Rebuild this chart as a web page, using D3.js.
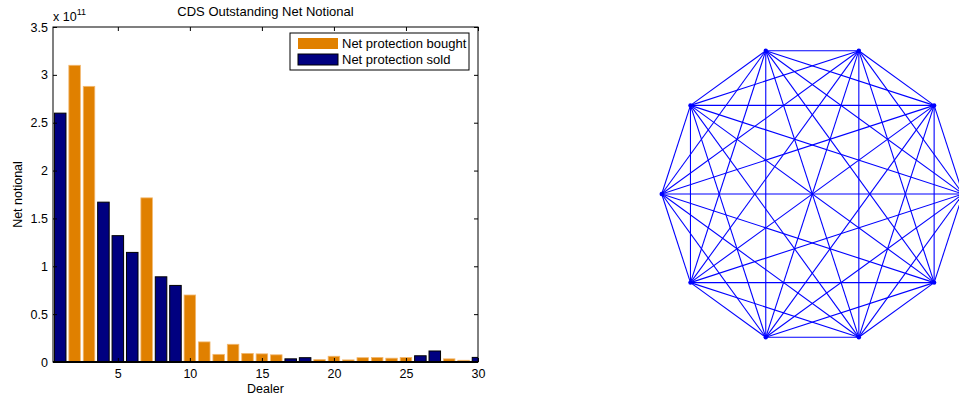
<!DOCTYPE html>
<html>
<head>
<meta charset="utf-8">
<script src="https://cdn.jsdelivr.net/npm/d3@7"></script>
<style>
  body { margin: 0; background: #fff; }
  text { font-family: "Liberation Sans", Arial, sans-serif; fill: #000; }
</style>
</head>
<body>
<div id="GraphHolder"></div>
<script>
// dealer numbers 1..30
var dealers = [1,2,3,4,5,6,7,8,9,10,11,12,13,14,15,16,17,18,19,20,21,22,23,24,25,26,27,28,29,30];

// net protection bought / sold per dealer (0 when the dealer is on the other side)
var bought = [0, 3.10e11, 2.88e11, 0, 0, 0, 1.715e11, 0, 0, 0.70e11,
              0.21e11, 0.08e11, 0.185e11, 0.09e11, 0.085e11, 0.075e11, 0, 0, 0.025e11, 0.06e11,
              0.022e11, 0.045e11, 0.048e11, 0.04e11, 0.048e11, 0, 0, 0.033e11, 0.018e11, 0];
var sold = [2.60e11, 0, 0, 1.67e11, 1.32e11, 1.145e11, 0, 0.89e11, 0.80e11, 0,
            0, 0, 0, 0, 0, 0, 0.033e11, 0.045e11, 0, 0,
            0, 0, 0, 0, 0, 0.065e11, 0.115e11, 0, 0, 0.048e11];

var yTicks = [0, 0.5e11, 1e11, 1.5e11, 2e11, 2.5e11, 3e11, 3.5e11];
var xTicks = [5, 10, 15, 20, 25, 30];
var seriesNames = ["Net protection bought", "Net protection sold"];
var seriesColors = ["#e08000", "#000080"];

// graph: 10 nodes on a decagon (unit coords), every pair joined
var nodeX = [1, 0.809, 0.309, -0.309, -0.809, -1, -0.809, -0.309, 0.309, 0.809];
var nodeY = [0, 0.588, 0.951, 0.951, 0.588, 0, -0.588, -0.951, -0.951, -0.588];

var svg = d3.select("#GraphHolder").append("svg")
    .attr("width", 959)
    .attr("height", 399);

// ---------- left: bar chart ----------
var plot = {left: 53, right: 478, top: 27, bottom: 362};

var x = d3.scaleLinear().domain([0.5, 30]).range([plot.left, plot.right]);
var y = d3.scaleLinear().domain([0, 3.5e11]).range([plot.bottom, plot.top]);
var bw = x(0.8) - x(0);

svg.append("defs").append("clipPath").attr("id", "plotclip")
    .append("rect")
    .attr("x", plot.left).attr("y", plot.top)
    .attr("width", plot.right - plot.left).attr("height", plot.bottom - plot.top);

var bars = svg.append("g").attr("clip-path", "url(#plotclip)");

var rows = dealers.map(function(d, i) { return {dealer: d, bought: bought[i], sold: sold[i]}; });

bars.selectAll(".bought")
    .data(rows.filter(function(d) { return d.bought > 0; }))
    .enter().append("rect")
    .attr("class", "bought")
    .attr("x", function(d) { return x(d.dealer) - bw / 2; })
    .attr("width", bw)
    .attr("y", function(d) { return y(d.bought); })
    .attr("height", function(d) { return y(0) - y(d.bought); })
    .style("fill", seriesColors[0])
    .style("stroke", "#f2b870")
    .style("stroke-width", 0.8);

bars.selectAll(".sold")
    .data(rows.filter(function(d) { return d.sold > 0; }))
    .enter().append("rect")
    .attr("class", "sold")
    .attr("x", function(d) { return x(d.dealer) - bw / 2; })
    .attr("width", bw)
    .attr("y", function(d) { return y(d.sold); })
    .attr("height", function(d) { return y(0) - y(d.sold); })
    .style("fill", seriesColors[1])
    .style("stroke", "#000")
    .style("stroke-width", 1);

// baseline
svg.append("line")
    .attr("x1", plot.left).attr("x2", plot.right)
    .attr("y1", y(0)).attr("y2", y(0))
    .style("stroke", "#000").style("stroke-width", 2);

// axes (ticks inside, box on all sides)
var fmtY = function(d) { return d3.format("~g")(d / 1e11); };

svg.append("g")
    .attr("transform", "translate(" + plot.left + ",0)")
    .call(d3.axisLeft(y).tickValues(yTicks).tickSize(-4).tickPadding(5).tickFormat(fmtY));
svg.append("g")
    .attr("transform", "translate(" + plot.right + ",0)")
    .call(d3.axisRight(y).tickValues(yTicks).tickSize(-4).tickFormat(""));
svg.append("g")
    .attr("transform", "translate(0," + plot.bottom + ")")
    .call(d3.axisBottom(x).tickValues(xTicks).tickSize(-4).tickPadding(7));
svg.append("g")
    .attr("transform", "translate(0," + plot.top + ")")
    .call(d3.axisTop(x).tickValues(xTicks).tickSize(-4).tickFormat(""));

svg.selectAll(".domain").attr("d", null);
svg.append("rect")
    .attr("x", plot.left).attr("y", plot.top)
    .attr("width", plot.right - plot.left).attr("height", plot.bottom - plot.top)
    .style("fill", "none").style("stroke", "#000").style("stroke-width", 1);

svg.selectAll(".tick line").style("stroke", "#000");
svg.selectAll(".tick text")
    .style("font-family", "Liberation Sans, Arial, sans-serif")
    .style("font-size", "12.5px");

// exponent label
var expo = svg.append("text").attr("x", 53).attr("y", 21).style("font-size", "12.5px");
expo.append("tspan").text("x 10");
expo.append("tspan").attr("dy", -6).style("font-size", "9px").text("11");

// title and axis labels
svg.append("text")
    .attr("x", (plot.left + plot.right) / 2).attr("y", 16)
    .attr("text-anchor", "middle").style("font-size", "13px")
    .text("CDS Outstanding Net Notional");
svg.append("text")
    .attr("x", (plot.left + plot.right) / 2).attr("y", 393)
    .attr("text-anchor", "middle").style("font-size", "12.5px")
    .text("Dealer");
svg.append("text")
    .attr("transform", "translate(22," + (plot.top + plot.bottom) / 2 + ") rotate(-90)")
    .attr("text-anchor", "middle").style("font-size", "12.5px")
    .text("Net notional");

// legend
var legend = svg.append("g");
legend.append("rect")
    .attr("x", 290).attr("y", 33).attr("width", 179).attr("height", 37)
    .style("fill", "#fff").style("stroke", "#000").style("stroke-width", 1);
seriesNames.forEach(function(name, i) {
    legend.append("rect")
        .attr("x", 298).attr("y", 38 + i * 16).attr("width", 40).attr("height", 11)
        .style("fill", seriesColors[i])
        .style("stroke", i === 1 ? "#000" : "none");
    legend.append("text")
        .attr("x", 342).attr("y", 47.5 + i * 16.5)
        .style("font-size", "13px")
        .text(name);
});

// ---------- right: complete graph on the decagon ----------
var gx = d3.scaleLinear().domain([-1, 1]).range([812.3 - 150.6, 812.3 + 150.6]);
var gy = d3.scaleLinear().domain([-1, 1]).range([194 + 150.7, 194 - 150.7]);

var nodes = nodeX.map(function(v, i) { return {x: v, y: nodeY[i]}; });
var edges = [];
nodes.forEach(function(a, i) {
    nodes.forEach(function(b, j) {
        if (j > i) edges.push([a, b]);
    });
});

var graph = svg.append("g");
graph.selectAll(".edge")
    .data(edges)
    .enter().append("line")
    .attr("class", "edge")
    .attr("x1", function(d) { return gx(d[0].x); })
    .attr("y1", function(d) { return gy(d[0].y); })
    .attr("x2", function(d) { return gx(d[1].x); })
    .attr("y2", function(d) { return gy(d[1].y); })
    .style("stroke", "#0000ff")
    .style("stroke-width", 1.1);

graph.selectAll(".node")
    .data(nodes)
    .enter().append("circle")
    .attr("class", "node")
    .attr("cx", function(d) { return gx(d.x); })
    .attr("cy", function(d) { return gy(d.y); })
    .attr("r", 2.2)
    .style("fill", "#0000ff");
</script>
</body>
</html>
